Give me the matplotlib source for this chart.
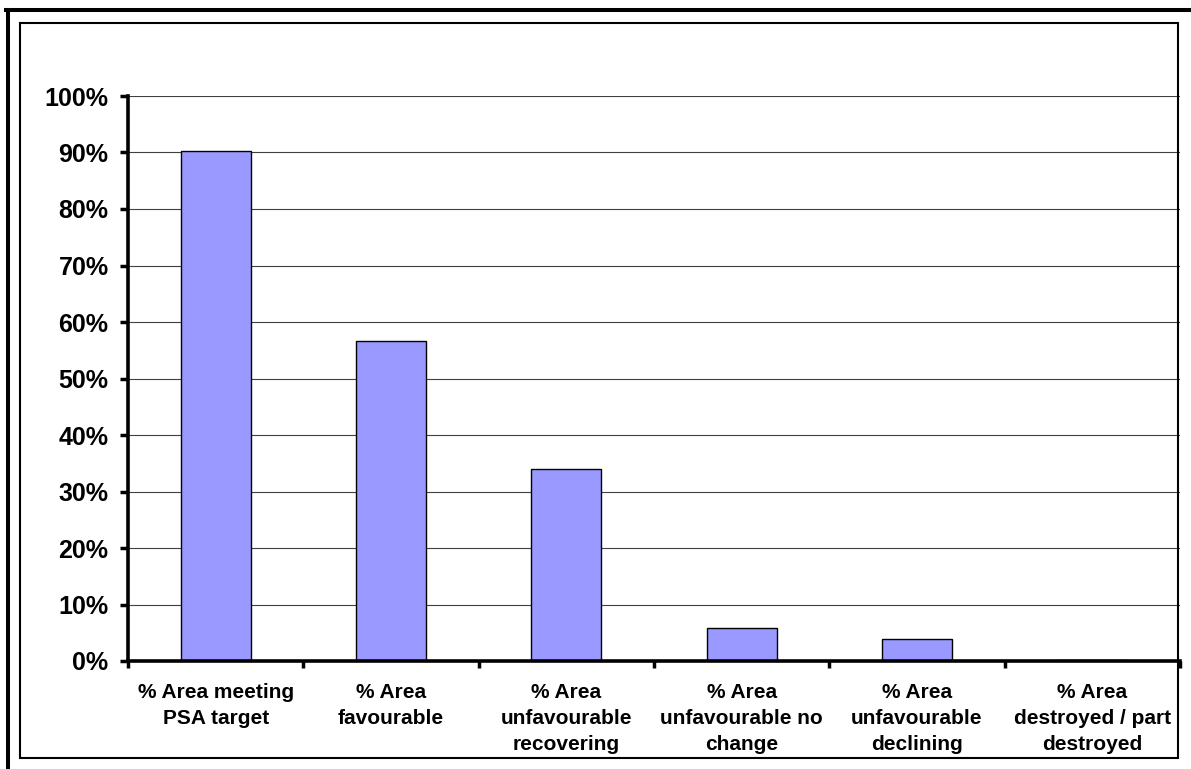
import numpy as np
import matplotlib
matplotlib.use("Agg")
import matplotlib.pyplot as plt
from matplotlib.lines import Line2D
from matplotlib.patches import Rectangle
from matplotlib.ticker import FixedLocator, PercentFormatter

# data
categories = [
    "% Area meeting\nPSA target",
    "% Area\nfavourable",
    "% Area\nunfavourable\nrecovering",
    "% Area\nunfavourable no\nchange",
    "% Area\nunfavourable\ndeclining",
    "% Area\ndestroyed / part\ndestroyed",
]
values = [90.2, 56.7, 33.9, 5.8, 3.9, 0.2]
y_ticks = [0, 10, 20, 30, 40, 50, 60, 70, 80, 90, 100]

W, H = 1191, 769
plt.rcParams['font.family'] = ['Liberation Sans', 'DejaVu Sans']
plt.rcParams['font.weight'] = 'bold'

fig = plt.figure(figsize=(W / 100, H / 100), dpi=100)


def fx(x):
    return x / W


def fy(y):
    return 1 - y / H


# outer thick frame (top and left visible) and inner thin frame
fig.add_artist(Line2D([fx(8), fx(8)], [fy(9.5), fy(H)], color='black', lw=2.9,
                      transform=fig.transFigure))
fig.add_artist(Line2D([fx(6), fx(W)], [fy(9.5), fy(9.5)], color='black', lw=2.9,
                      transform=fig.transFigure))
fig.add_artist(Rectangle((fx(19.5), fy(758)), fx(1178) - fx(19.5), fy(22.5) - fy(758),
                         fill=False, edgecolor='black', lw=1.5,
                         transform=fig.transFigure))

ax = fig.add_axes([fx(128), fy(661), fx(1180) - fx(128), fy(96) - fy(661)])
x = np.arange(len(categories))
ax.bar(x, values, width=0.4, color='#9999FF', edgecolor='black', linewidth=1.0, zorder=3)

ax.set_xlim(-0.5, len(categories) - 0.5)
ax.set_ylim(0, 100)
ax.set_yticks(y_ticks)
ax.yaxis.set_major_formatter(PercentFormatter(decimals=0))
ax.grid(axis='y', color='#404040', lw=0.8, zorder=0)

ax.set_xticks(x)
ax.set_xticklabels(categories, fontsize=15, fontweight='bold', linespacing=1.45)
ax.xaxis.set_minor_locator(FixedLocator(np.arange(-0.5, len(categories), 1.0)))
ax.tick_params(axis='x', which='major', length=0, pad=16)
ax.tick_params(axis='x', which='minor', length=5, width=2.5, direction='out')
ax.tick_params(axis='y', length=5.5, width=2.5, pad=8.5, labelsize=18)
for lab in ax.get_yticklabels():
    lab.set_fontweight('bold')

for side in ['top', 'right']:
    ax.spines[side].set_visible(False)
for side in ['left', 'bottom']:
    ax.spines[side].set_linewidth(2.6)
    ax.spines[side].set_zorder(4)

fig.savefig("out.png", dpi=100)
